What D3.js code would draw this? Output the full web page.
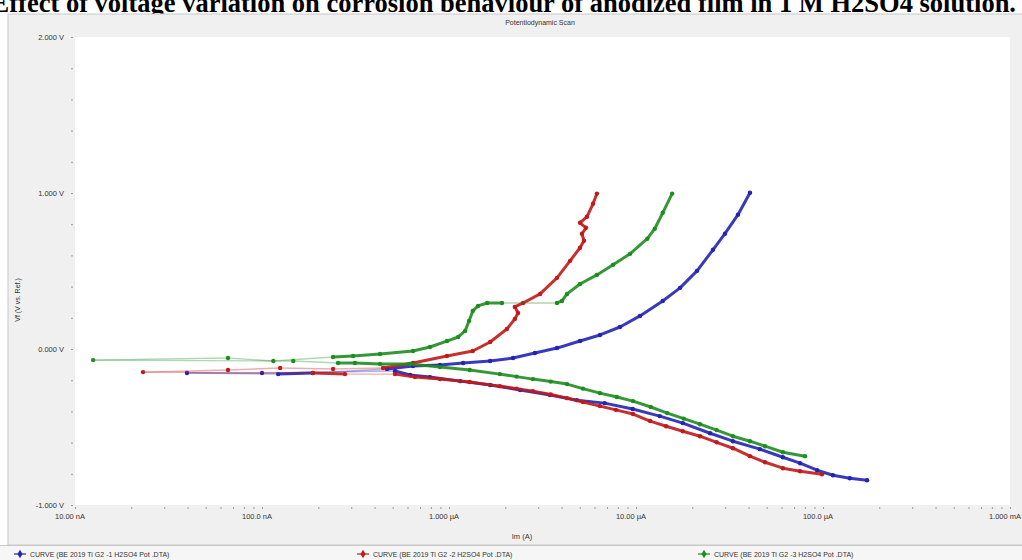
<!DOCTYPE html>
<html>
<head>
<meta charset="utf-8">
<script src="https://cdn.jsdelivr.net/npm/d3@7"></script>
<style>
  body { margin: 0; background: #fff; }
  svg { display: block; }
</style>
</head>
<body>
<svg id="chart" width="1022" height="560"></svg>
<script>
// curve names
const curveNames = [
  "CURVE (BE 2019  Ti G2 -1 H2SO4 Pot .DTA)",
  "CURVE (BE 2019  Ti G2 -2 H2SO4 Pot .DTA)",
  "CURVE (BE 2019  Ti G2 -3 H2SO4 Pot .DTA)"
];
const curveColors = ["#2323b4", "#c01a1a", "#1f8c1f"];

// scan order: cathodic tail -> Ecorr noise -> anodic
const curve1Current = [1.72e-4, 1.39e-4, 1.13e-4, 9.3e-5, 7.54e-5, 6.1e-5, 4.6e-5, 3.3e-5, 2.49e-5, 1.78e-5, 1.34e-5, 9.6e-6, 6.8e-6, 4.83e-6, 3.47e-6, 2.4e-6, 1.66e-6, 1.15e-6, 7.9e-7, 6.2e-7,
  5.14e-7, 1e-7, 3.97e-8, 1.22e-7, 1.87e-7, 4.66e-7,
  6.42e-7, 8.95e-7, 1.19e-6, 1.66e-6, 2.2e-6, 2.88e-6, 3.78e-6, 5.02e-6, 6.42e-6, 8.21e-6, 1.05e-5, 1.39e-5, 1.72e-5, 2.12e-5, 2.58e-5, 2.99e-5, 3.51e-5, 4.07e-5];
const curve1Potential = [-0.841, -0.829, -0.809, -0.777, -0.732, -0.694, -0.642, -0.591, -0.540, -0.475, -0.430, -0.385, -0.347, -0.328, -0.295, -0.263, -0.231, -0.206, -0.180, -0.167,
  -0.141, -0.154, -0.154, -0.161, -0.154, -0.128,
  -0.109, -0.103, -0.090, -0.077, -0.058, -0.026, 0.006, 0.051, 0.090, 0.141, 0.212, 0.308, 0.392, 0.501, 0.636, 0.739, 0.861, 1.002];

const curve2Current = [9.88e-5, 7.54e-5, 6.11e-5, 4.9e-5, 4.07e-5, 3.3e-5, 2.7e-5, 2.2e-5, 1.78e-5, 1.45e-5, 1.19e-5, 9.64e-6, 7.8e-6, 6.42e-6, 5.2e-6, 4.28e-6, 3.5e-6, 2.81e-6, 2.3e-6, 1.87e-6, 1.29e-6, 8.95e-7, 6.58e-7,
  5.14e-7, 2.78e-7, 1.87e-7, 2.31e-8, 6.58e-8, 1.25e-7, 2.4e-7, 4.44e-7,
  6.42e-7, 9.75e-7, 1.34e-6, 1.66e-6, 2.04e-6, 2.25e-6, 2.34e-6, 2.25e-6, 2.49e-6, 3.07e-6, 3.78e-6, 4.44e-6, 5.02e-6, 5.27e-6, 5.14e-6, 5.4e-6, 5.02e-6, 5.47e-6, 5.89e-6, 6.18e-6];
const curve2Potential = [-0.803, -0.784, -0.764, -0.726, -0.687, -0.636, -0.598, -0.559, -0.527, -0.495, -0.462, -0.417, -0.390, -0.366, -0.340, -0.315, -0.292, -0.270, -0.254, -0.238, -0.212, -0.193, -0.180,
  -0.161, -0.161, -0.154, -0.148, -0.135, -0.122, -0.128, -0.122,
  -0.090, -0.045, -0.013, 0.045, 0.128, 0.193, 0.231, 0.270, 0.295, 0.353, 0.456, 0.565, 0.649, 0.694, 0.739, 0.777, 0.809, 0.848, 0.931, 0.996];

const curve3Current = [8.01e-5, 6.11e-5, 4.9e-5, 4.07e-5, 3.3e-5, 2.7e-5, 2.2e-5, 1.8e-5, 1.47e-5, 1.2e-5, 9.64e-6, 7.9e-6, 6.42e-6, 5.2e-6, 4.28e-6, 3.5e-6, 2.81e-6, 2.3e-6, 1.87e-6, 1.29e-6, 8.95e-7, 6.18e-7, 4.28e-7, 3.14e-7,
  2.55e-7, 1.47e-7, 1.25e-8, 6.58e-8, 1.15e-7, 2.4e-7,
  3.07e-7, 4.28e-7, 6.42e-7, 7.91e-7, 9.75e-7, 1.12e-6, 1.22e-6, 1.28e-6, 1.34e-6, 1.43e-6, 1.6e-6, 1.92e-6, 3.78e-6, 4.02e-6, 4.28e-6, 5.02e-6, 6.18e-6, 7.54e-6, 9.29e-6, 1.15e-5, 1.26e-5, 1.39e-5, 1.56e-5];
const curve3Potential = [-0.687, -0.662, -0.623, -0.591, -0.559, -0.520, -0.482, -0.446, -0.411, -0.372, -0.334, -0.308, -0.283, -0.254, -0.225, -0.209, -0.193, -0.177, -0.161, -0.135, -0.116, -0.096, -0.096, -0.090,
  -0.090, -0.077, -0.071, -0.058, -0.077, -0.051,
  -0.045, -0.032, -0.013, 0.013, 0.051, 0.077, 0.116, 0.180, 0.244, 0.276, 0.295, 0.295, 0.295, 0.308, 0.353, 0.417, 0.475, 0.540, 0.610, 0.707, 0.771, 0.873, 0.996];

const xTickValues = [1e-8, 1e-7, 1e-6, 1e-5, 1e-4, 1e-3];
const xTickLabels = ["10.00 nA", "100.0 nA", "1.000 µA", "10.00 µA", "100.0 µA", "1.000 mA"];
const yTickValues = [2, 1, 0, -1];
const yTickLabels = ["2.000 V", "1.000 V", "0.000 V", "-1.000 V"];

const curves = [
  { current: curve1Current, potential: curve1Potential },
  { current: curve2Current, potential: curve2Potential },
  { current: curve3Current, potential: curve3Potential }
];

const svg = d3.select("#chart");
const font = "Arial, 'Liberation Sans', sans-serif";

// heading (clipped at the top like the source picture)
svg.append("text")
  .attr("x", 1016)
  .attr("y", 12)
  .attr("text-anchor", "end")
  .attr("font-family", "'Liberation Serif', 'Times New Roman', serif")
  .attr("font-weight", "bold")
  .attr("font-size", 26.5)
  .attr("fill", "#000")
  .text("Effect of voltage variation on corrosion behaviour of anodized film in 1 M H2SO4 solution.");

// grey panel
svg.append("rect")
  .attr("x", 8).attr("y", 14).attr("width", 1016).attr("height", 531)
  .attr("fill", "#f0f0f0").attr("stroke", "#c8c8c8");
svg.append("rect")
  .attr("x", 0).attr("y", 545).attr("width", 1022).attr("height", 15)
  .attr("fill", "#f6f6f6");
svg.append("line")
  .attr("x1", 0).attr("x2", 1022).attr("y1", 545.5).attr("y2", 545.5)
  .attr("stroke", "#c8c8c8");

const x = d3.scaleLog().domain([1e-8, 1e-3]).range([75, 1010]);
const y = d3.scaleLinear().domain([-1, 2]).range([505, 37]);

svg.append("rect")
  .attr("x", 75).attr("y", 37).attr("width", 935).attr("height", 468)
  .attr("fill", "#fff");

svg.append("text")
  .attr("x", 540).attr("y", 25)
  .attr("text-anchor", "middle")
  .attr("font-family", font).attr("font-size", 7).attr("fill", "#333")
  .text("Potentiodynamic Scan");

// x axis
const xAxis = d3.axisBottom(x)
  .tickValues(x.ticks())
  .tickSize(2)
  .tickFormat("");
const gx = svg.append("g")
  .attr("transform", "translate(0,507)")
  .call(xAxis);
gx.select(".domain").remove();
gx.selectAll(".tick line").attr("stroke", "#999");

svg.append("g")
  .selectAll("text")
  .data(xTickValues)
  .join("text")
  .attr("x", (d) => x(d) - 5)
  .attr("y", 519)
  .attr("text-anchor", "middle")
  .attr("font-family", font).attr("font-size", 7.5).attr("fill", "#333")
  .text((d, i) => xTickLabels[i]);

// y axis
const yAxis = d3.axisLeft(y)
  .tickValues(d3.range(-1, 2.01, 0.2))
  .tickSize(2)
  .tickFormat("");
const gy = svg.append("g")
  .attr("transform", "translate(73,0)")
  .call(yAxis);
gy.select(".domain").remove();
gy.selectAll(".tick line").attr("stroke", "#999");

svg.append("g")
  .selectAll("text")
  .data(yTickValues)
  .join("text")
  .attr("x", 64)
  .attr("y", (d) => y(d) + 2.5)
  .attr("text-anchor", "end")
  .attr("font-family", font).attr("font-size", 7.5).attr("fill", "#333")
  .text((d, i) => yTickLabels[i]);

svg.append("text")
  .attr("transform", "translate(20,300) rotate(-90)")
  .attr("text-anchor", "middle")
  .attr("font-family", font).attr("font-size", 7).attr("fill", "#333")
  .text("Vf (V vs. Ref.)");

svg.append("text")
  .attr("x", 522).attr("y", 539)
  .attr("text-anchor", "middle")
  .attr("font-family", font).attr("font-size", 7.5).attr("fill", "#333")
  .text("Im (A)");

// curves
const isJump = (d) => {
  const dx = Math.abs(d[1][0] - d[0][0]);
  const dy = Math.abs(d[1][1] - d[0][1]);
  return dx > 40 && dy < 0.25 * dx;
};
const plot = svg.append("g");
curves.forEach((c, k) => {
  const pts = c.current.map((v, i) => [x(v), y(c.potential[i])]);
  const segs = d3.pairs(pts);
  // long horizontal jumps are thin and pale, dense runs look like a thick trace
  plot.append("g")
    .selectAll("line")
    .data(segs)
    .join("line")
    .attr("x1", (d) => d[0][0]).attr("y1", (d) => d[0][1])
    .attr("x2", (d) => d[1][0]).attr("y2", (d) => d[1][1])
    .attr("stroke", curveColors[k])
    .attr("stroke-linecap", "round")
    .attr("stroke-width", (d) => isJump(d) ? 1.4 : 3)
    .attr("stroke-opacity", (d) => isJump(d) ? 0.35 : 0.9);
  plot.append("g")
    .selectAll("circle")
    .data(pts)
    .join("circle")
    .attr("cx", (d) => d[0]).attr("cy", (d) => d[1])
    .attr("r", 2.2)
    .attr("fill", curveColors[k]);
});

// legend
const legendX = [14, 357, 698];
const legend = svg.append("g")
  .selectAll("g")
  .data(curveNames)
  .join("g")
  .attr("transform", (d, i) => `translate(${legendX[i]},554)`);
legend.append("line")
  .attr("x1", 0).attr("x2", 12)
  .attr("stroke", (d, i) => curveColors[i]).attr("stroke-width", 1.2);
legend.append("path")
  .attr("d", d3.symbol(d3.symbolDiamond, 22))
  .attr("transform", "translate(6,0)")
  .attr("fill", (d, i) => curveColors[i]);
legend.append("text")
  .attr("x", 16).attr("y", 2.5)
  .attr("font-family", font).attr("font-size", 7).attr("fill", "#333")
  .text((d) => d);
</script>
</body>
</html>
